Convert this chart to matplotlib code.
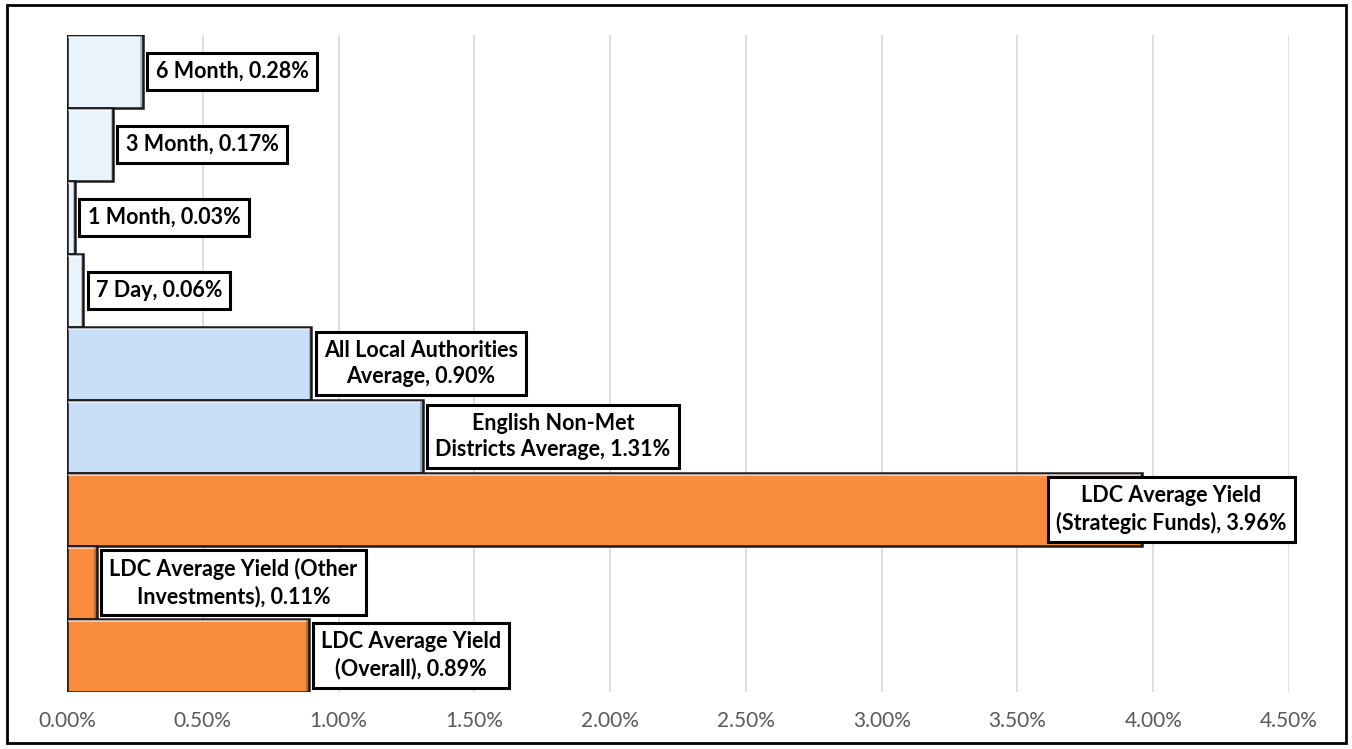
import matplotlib
matplotlib.use("Agg")
import matplotlib.pyplot as plt
from matplotlib.patches import Rectangle
from matplotlib.ticker import FuncFormatter

labels = ["6 Month", "3 Month", "1 Month", "7 Day",
          "All Local Authorities\nAverage", "English Non-Met\nDistricts Average",
          "LDC Average Yield\n(Strategic Funds)", "LDC Average Yield (Other\nInvestments)",
          "LDC Average Yield\n(Overall)"]
values = [0.28, 0.17, 0.03, 0.06, 0.90, 1.31, 3.96, 0.11, 0.89]
colors = ["#E9F3FC", "#E9F3FC", "#E9F3FC", "#E9F3FC", "#C7E0F7", "#C7E0F7",
          "#F98C3C", "#F98C3C", "#F98C3C"]
xticks = [0.0, 0.5, 1.0, 1.5, 2.0, 2.5, 3.0, 3.5, 4.0, 4.5]

plt.rcParams['font.family'] = ['Lato', 'DejaVu Sans']

fig = plt.figure(figsize=(13.52, 7.49), dpi=100)
fig.patches.append(Rectangle((7/1352, 1-743/749), (1346-7)/1352, (743-5)/749,
                             transform=fig.transFigure, fill=False, edgecolor='black',
                             linewidth=2, zorder=10))
ax = fig.add_axes([67/1352, 1-692/749, 1222/1352, 657/749])

ypos = list(range(len(values)))
ax.barh(ypos, values, height=1.0, color=colors, edgecolor='#1a1a1a', linewidth=1.8, zorder=3)
# bevel highlight
for y, v in zip(ypos, values):
    ax.plot([0.004, v - 0.004], [y - 0.47, y - 0.47], color='white', alpha=0.55, lw=1.5, zorder=4,
            solid_capstyle='butt')
    ax.plot([v - 0.006, v - 0.006], [y - 0.47, y + 0.47], color='black', alpha=0.25, lw=2, zorder=4)

ax.set_ylim(len(values) - 0.5, -0.5)
ax.set_xlim(0, 4.5)
ax.set_xticks(xticks)
ax.xaxis.set_major_formatter(FuncFormatter(lambda x, p: f"{x:.2f}%"))
ax.tick_params(axis='x', length=0, labelsize=15, labelcolor='#595959', pad=14)
ax.set_yticks([])
ax.grid(axis='x', color='#D9D9D9', linewidth=1.2, zorder=0)
for s in ax.spines.values():
    s.set_visible(False)

box = dict(boxstyle='square,pad=0.38', fc='white', ec='black', lw=2.2)
for y, v, lab in zip(ypos, values, labels):
    txt = f"{lab}, {v:.2f}%"
    if v > 3.5:
        ax.annotate(txt, xy=(v, y), xytext=(21, 0), textcoords='offset points',
                    ha='center', va='center', fontsize=15.5, fontweight='bold',
                    multialignment='center', linespacing=1.3, zorder=6, bbox=box)
    else:
        ax.annotate(txt, xy=(v, y), xytext=(9, 0), textcoords='offset points',
                    ha='left', va='center', fontsize=15.5, fontweight='bold',
                    multialignment='center', linespacing=1.3, zorder=6, bbox=box)

fig.savefig("out.png", dpi=100)
